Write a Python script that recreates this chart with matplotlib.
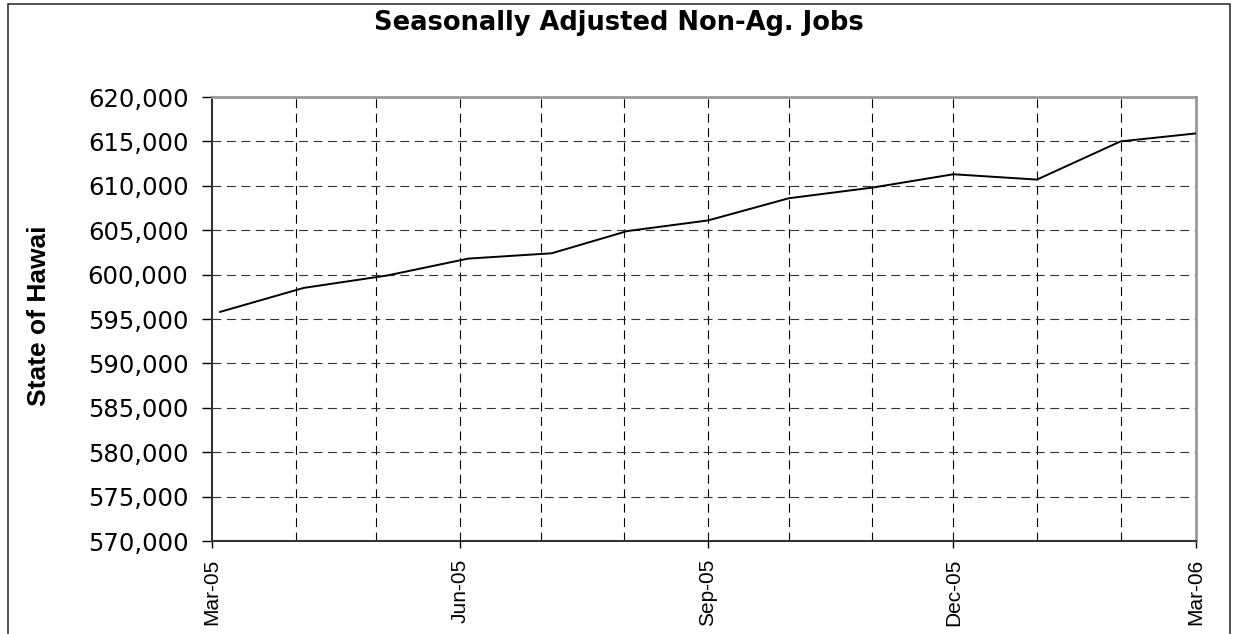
import matplotlib
matplotlib.use("Agg")
import matplotlib.pyplot as plt
import matplotlib.dates as mdates
import matplotlib.ticker as mticker
from matplotlib.patches import Rectangle
import numpy as np

# data
dates = ["2005-03-04", "2005-04-04", "2005-05-05", "2005-06-04", "2005-07-05",
         "2005-08-02", "2005-09-01", "2005-10-01", "2005-11-01", "2005-12-01",
         "2006-01-01", "2006-02-01", "2006-03-01"]
jobs = [595800, 598500, 599900, 601800, 602400, 604900, 606100,
        608600, 609800, 611300, 610700, 615000, 615900]
tick_dates = ["2005-03-01", "2005-06-01", "2005-09-01", "2005-12-01", "2006-03-01"]
tick_labels = ["Mar-05", "Jun-05", "Sep-05", "Dec-05", "Mar-06"]
grid_dates = ["2005-%02d-01" % m for m in range(3, 13)] + ["2006-01-01", "2006-02-01", "2006-03-01"]

x = mdates.date2num(np.array(dates, dtype="datetime64[D]"))
xt = mdates.date2num(np.array(tick_dates, dtype="datetime64[D]"))
xg = mdates.date2num(np.array(grid_dates, dtype="datetime64[D]"))

W, H = 1238, 634
fig = plt.figure(figsize=(W / 100, H / 100), dpi=100)
ax = fig.add_axes([212 / W, 1 - 541 / H, (1196 - 212) / W, (541 - 97) / H])

ax.plot(x, jobs, color="black", lw=1.4, zorder=3)

ax.set_xlim(xg[0], xg[-1])
ax.set_ylim(570000, 620000)
ax.yaxis.set_major_locator(mticker.MultipleLocator(5000))
ax.yaxis.set_major_formatter(mticker.FuncFormatter(lambda v, p: f"{int(v):,}"))

# grid
dash = (0, (8, 5))
for g in xg[1:-1]:
    ax.axvline(g, color="black", lw=0.8, ls=dash, zorder=1)
for v in range(575000, 620000, 5000):
    ax.axhline(v, color="#333333", lw=0.8, ls=dash, zorder=1)

ax.set_xticks(xt)
ax.set_xticklabels(tick_labels, rotation=90, fontsize=15, family="Liberation Sans")
ax.tick_params(axis="x", length=5, width=1, pad=8, color="black")
ax.tick_params(axis="y", length=7, width=1, pad=10, color="black", labelsize=17.5)
for lab in ax.get_yticklabels():
    lab.set_family("DejaVu Sans")

for s in ["left", "bottom"]:
    ax.spines[s].set_color("#333333")
    ax.spines[s].set_linewidth(1.5)
for s in ["top", "right"]:
    ax.spines[s].set_color("#999999")
    ax.spines[s].set_linewidth(2)

fig.text(619 / W, 1 - 23 / H, "Seasonally Adjusted Non-Ag. Jobs", ha="center", va="center",
         fontsize=18.5, fontweight="bold", family="DejaVu Sans")
fig.text(39 / W, 1 - 316 / H, "State of Hawai", rotation=90, ha="center", va="center",
         fontsize=19, fontweight="bold", family="Liberation Sans")

# outer chart border
fig.patches.append(Rectangle((8 / W, -0.05), (1230 - 8) / W, 1.05 - 4 / H,
                             transform=fig.transFigure, fill=False,
                             edgecolor="#333333", lw=1.2))

plt.savefig("out.png", dpi=100)
